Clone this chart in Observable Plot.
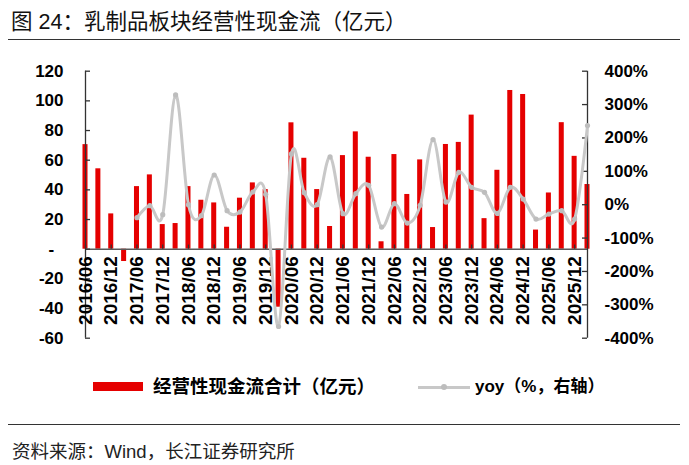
<!DOCTYPE html>
<html><head><meta charset="utf-8">
<script src="https://cdn.jsdelivr.net/npm/d3@7"></script>
<script src="https://cdn.jsdelivr.net/npm/@observablehq/plot@0.6"></script>
<style>
body{margin:0;background:#fff;}
#wrap{position:relative;width:689px;height:465px;overflow:hidden;font-family:"Liberation Sans","Noto Sans CJK SC",sans-serif;color:#000;}
#chart{position:absolute;left:0;top:0;}
.abs{position:absolute;white-space:nowrap;}
.title{left:11px;top:11px;font-size:21.5px;line-height:22px;color:#111;}
.hr{left:8px;width:672px;height:0;border-top:1.4px solid #333;}
.leg{font-weight:bold;}
.src{left:12px;top:442px;font-size:18.5px;line-height:19px;color:#222;}
</style></head>
<body>
<div id="wrap">
  <div id="chart"></div>
  <div class="abs title">图 24：乳制品板块经营性现金流（亿元）</div>
  <div class="abs hr" style="top:39px"></div>
  <div class="abs" style="left:93px;top:382px;width:50px;height:9px;background:#e50000"></div>
  <div class="abs leg" style="left:153px;top:377px;font-size:18.5px;line-height:19px">经营性现金流合计（亿元）</div>
  <div class="abs" style="left:418px;top:385.5px;width:52px;height:3px;background:#c8c8c8"></div>
  <div class="abs" style="left:441px;top:384px;width:6px;height:6px;border-radius:3px;background:#bdbdbd"></div>
  <div class="abs leg" style="left:475px;top:378px;font-size:17px;line-height:18px">yoy（%，右轴）</div>
  <div class="abs hr" style="top:424px"></div>
  <div class="abs src">资料来源：Wind，长江证券研究所</div>
</div>
<script>
const quarters = ["2016/06","2016/09","2016/12","2017/03","2017/06","2017/09","2017/12","2018/03",
  "2018/06","2018/09","2018/12","2019/03","2019/06","2019/09","2019/12","2020/03",
  "2020/06","2020/09","2020/12","2021/03","2021/06","2021/09","2021/12","2022/03",
  "2022/06","2022/09","2022/12","2023/03","2023/06","2023/09","2023/12","2024/03",
  "2024/06","2024/09","2024/12","2025/03","2025/06","2025/09","2025/12","2026/03"];
const cashFlow = [70.5,54.2,23.8,-8.3,42.2,50.1,16.6,17.3,
  42.2,33.0,31.2,14.8,34.4,44.7,40.2,-39.1,
  85.2,61.3,40.2,15.3,63.1,79.1,62.0,5.0,
  63.8,36.9,60.2,14.6,70.6,72.0,90.4,20.6,
  53.2,107.0,104.3,12.9,37.9,85.3,62.6,43.6];
const yoy = [null,null,null,null,-39,-3,-30,329,
  0,-33,89,-18,-22,38,31,-365,
  152,36,0,143,-27,33,58,-67,
  3,-55,-2,195,8,97,52,37,
  -26,52,17,-43,-28,-18,-43,237];
const leftTicks = [-60,-40,-20,0,20,40,60,80,100,120];
const rightTicks = [-400,-300,-200,-100,0,100,200,300,400];
const labelEvery = 2;

// right axis (-400%..400%) mapped onto left scale (-60..120)
const toLeft = p => (p + 400) / 800 * 180 - 60;
const fromLeft = v => (v + 60) / 180 * 800 - 400;

const data = quarters.map((q, i) => ({i, q, v: cashFlow[i], yoy: yoy[i]}));
const yoyData = data.filter(d => d.yoy != null);
const labelIdx = data.filter(d => d.i % labelEvery === 0).map(d => d.i);

const W = 689, H = 465;
const mL = 85, mR = 102, mT = 70.7, mB = 127.3;
const plotW = W - mL - mR;

const axisColor = "#333";
const chart = Plot.plot({
  width: W, height: H,
  marginLeft: mL, marginRight: mR, marginTop: mT, marginBottom: mB,
  x: {domain: [0, quarters.length - 1], axis: null},
  y: {domain: [-60, 120], axis: null},
  style: {fontFamily: '"Liberation Sans","Noto Sans CJK SC",sans-serif', fontSize: "17px", fontWeight: "bold", color: "#000", background: "transparent"},
  marks: [
    Plot.rect(data, {x1: d => d.i - 0.195, x2: d => d.i + 0.195, y1: () => 0, y2: "v", fill: "#e50000"}),
    Plot.ruleY([0], {stroke: "#5a5a5a", strokeWidth: 1.4}),
    Plot.ruleX([0], {stroke: axisColor, strokeWidth: 1.3}),
    Plot.ruleX([quarters.length - 1], {stroke: axisColor, strokeWidth: 1.3}),
    Plot.tickY(leftTicks, {y: d => d, insetRight: plotW - 5, stroke: axisColor, strokeWidth: 1.3}),
    Plot.tickY(rightTicks.map(toLeft), {y: d => d, insetLeft: plotW - 5, stroke: axisColor, strokeWidth: 1.3}),
    Plot.ruleX(labelIdx, {x: d => d, y1: () => 0, y2: () => 2.8, stroke: axisColor, strokeWidth: 1.3}),
    Plot.axisY(leftTicks, {anchor: "left", tickSize: 0, tickPadding: 22, label: null,
      tickFormat: v => v === 0 ? "-\u2007" : String(v)}),
    Plot.axisY(rightTicks.map(toLeft), {anchor: "right", tickSize: 0, tickPadding: 17, label: null,
      tickFormat: v => Math.round(fromLeft(v)) + "%"}),
    Plot.text(labelIdx, {x: d => d, y: () => 0, text: d => quarters[d], rotate: -90,
      textAnchor: "end", dy: 7, fontSize: 19, fontWeight: "bold", fill: "#000"}),
    Plot.line(yoyData, {x: "i", y: d => toLeft(d.yoy), stroke: "#c8c8c8", strokeWidth: 3, curve: "cardinal"}),
    Plot.dot(yoyData, {x: "i", y: d => toLeft(d.yoy), r: 2.6, fill: "#bdbdbd", stroke: "none"})
  ]
});
document.getElementById("chart").appendChild(chart);
</script>
</body></html>
